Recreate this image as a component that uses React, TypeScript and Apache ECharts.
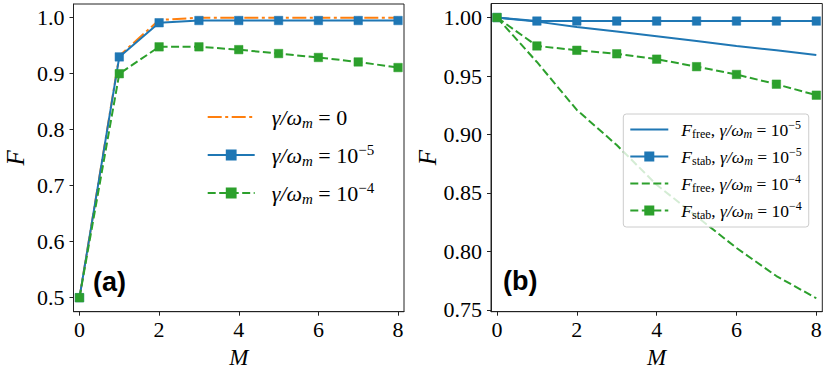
import React, { useEffect, useRef } from 'react';
import * as echarts from 'echarts';

// x values (number of stabilisation steps M)
const M = [0, 1, 2, 3, 4, 5, 6, 7, 8];

// Panel (a)
const aGamma0 = [0.5, 0.932, 0.996, 1.0, 1.0, 1.0, 1.0, 1.0, 1.0];
const aGamma5 = [0.5, 0.93, 0.991, 0.995, 0.995, 0.995, 0.995, 0.995, 0.995];
const aGamma4 = [0.5, 0.9, 0.948, 0.948, 0.943, 0.936, 0.929, 0.921, 0.911];

// Panel (b)
const bFree5 = [1.0, 0.9965, 0.992, 0.988, 0.984, 0.98, 0.9757, 0.972, 0.968];
const bStab5 = [1.0, 0.997, 0.997, 0.997, 0.997, 0.997, 0.997, 0.997, 0.997];
const bFree4 = [1.0, 0.962, 0.921, 0.891, 0.857, 0.83, 0.803, 0.779, 0.76];
const bStab4 = [1.0, 0.9757, 0.972, 0.969, 0.9644, 0.958, 0.9513, 0.943, 0.9336];

const xTicks = [0, 2, 4, 6, 8];
const aYTicks = [0.5, 0.6, 0.7, 0.8, 0.9, 1.0];
const bYTicks = [0.75, 0.8, 0.85, 0.9, 0.95, 1.0];

const BLUE = '#1f77b4';
const ORANGE = '#ff7f0e';
const GREEN = '#2ca02c';
const SERIF = 'Liberation Serif';
const INK = '#222';

const pairs = (ys: number[]) => M.map((m, i) => [m, ys[i]]);

const legendLabels: Record<string, string> = {
  a0: '{f|γ/ω}{s|m}{t| = 0}',
  a5: '{f|γ/ω}{s|m}{t| = 10}{p|−5}',
  a4: '{f|γ/ω}{s|m}{t| = 10}{p|−4}',
  b1: '{f|F}{u|free}{t|, }{g|γ/ω}{s|m}{t| = 10}{p|−5}',
  b2: '{f|F}{u|stab}{t|, }{g|γ/ω}{s|m}{t| = 10}{p|−5}',
  b3: '{f|F}{u|free}{t|, }{g|γ/ω}{s|m}{t| = 10}{p|−4}',
  b4: '{f|F}{u|stab}{t|, }{g|γ/ω}{s|m}{t| = 10}{p|−4}',
};

function richFor(size: number, lead: number) {
  const small = Math.round(size * 0.7);
  const lh = Math.round(size * 1.2);
  const slh = Math.round(small * 1.1);
  return {
    f: { fontFamily: SERIF, fontStyle: 'italic', fontSize: size, lineHeight: lh, color: '#000', padding: [0, 0, 0, lead] },
    g: { fontFamily: SERIF, fontStyle: 'italic', fontSize: size, lineHeight: lh, color: '#000' },
    t: { fontFamily: SERIF, fontSize: size, lineHeight: lh, color: '#000' },
    s: { fontFamily: SERIF, fontStyle: 'italic', fontSize: small, lineHeight: slh, verticalAlign: 'bottom', color: '#000' },
    u: { fontFamily: SERIF, fontSize: small, lineHeight: slh, verticalAlign: 'bottom', color: '#000' },
    p: { fontFamily: SERIF, fontSize: small, lineHeight: slh, verticalAlign: 'top', color: '#000' },
  };
}

function xAxis(gridIndex: number) {
  return {
    type: 'value',
    gridIndex,
    min: -0.15,
    max: 8.15,
    name: 'M',
    nameLocation: 'middle',
    nameGap: 28,
    nameTextStyle: { fontFamily: SERIF, fontStyle: 'italic', fontSize: 23, lineHeight: 23, color: '#000' },
    axisLine: { show: true, onZero: false, lineStyle: { color: INK, width: 1 } },
    axisTick: { show: true, inside: false, length: 4, customValues: xTicks, lineStyle: { color: INK, width: 1 } },
    axisLabel: { customValues: xTicks, margin: 7, fontFamily: SERIF, fontSize: 22, color: '#000' },
    splitLine: { show: false },
  };
}

function yAxis(gridIndex: number, min: number, max: number, ticks: number[], digits: number, gap: number) {
  return {
    type: 'value',
    gridIndex,
    min,
    max,
    name: 'F',
    nameLocation: 'middle',
    nameGap: gap,
    nameRotate: 90,
    nameTextStyle: { fontFamily: SERIF, fontStyle: 'italic', fontSize: 25, color: '#000' },
    axisLine: { show: true, onZero: false, lineStyle: { color: INK, width: 1 } },
    axisTick: { show: true, inside: false, length: 4, customValues: ticks, lineStyle: { color: INK, width: 1 } },
    axisLabel: {
      customValues: ticks,
      margin: 9,
      fontFamily: SERIF,
      fontSize: 22,
      color: '#000',
      formatter: (v: number) => v.toFixed(digits),
    },
    splitLine: { show: false },
  };
}

function lineSeries(name: string, idx: number, ys: number[], color: string, type: any, marker: boolean, z: number) {
  return {
    name,
    type: 'line',
    xAxisIndex: idx,
    yAxisIndex: idx,
    data: pairs(ys),
    symbol: marker ? 'rect' : 'none',
    symbolSize: 8.5,
    showSymbol: marker,
    z,
    lineStyle: { color, width: 2, type },
    itemStyle: { color, borderColor: color, borderWidth: 0.5 },
    emphasis: { disabled: true },
  };
}

const hiddenIcon = { color: 'rgba(0,0,0,0)', borderColor: 'rgba(0,0,0,0)', borderWidth: 0, opacity: 0 };

const DASH = [8, 3.5];
const DASHDOT = [14, 3.5, 3, 3.5];

export default function App() {
  const ref = useRef<HTMLDivElement>(null);
  useEffect(() => {
    const chart = echarts.init(ref.current!, null, { renderer: 'svg' });
    const option: any = {
      animation: false,
      backgroundColor: '#fff',
      grid: [
        { left: 73.5, top: 4, width: 330.5, height: 307.7, show: true, borderColor: INK, borderWidth: 1, backgroundColor: 'transparent', containLabel: false, outerBoundsMode: 'none' },
        { left: 491, top: 3.5, width: 331.3, height: 308.2, show: true, borderColor: INK, borderWidth: 1, backgroundColor: 'transparent', containLabel: false, outerBoundsMode: 'none' },
      ],
      xAxis: [xAxis(0), xAxis(1)],
      yAxis: [
        yAxis(0, 0.475, 1.0245, aYTicks, 1, 46),
        yAxis(1, 0.7485, 1.012, bYTicks, 2, 51),
      ],
      legend: [
        {
          data: [{ name: 'a0', itemStyle: hiddenIcon }, 'a5', 'a4'],
          orient: 'vertical',
          left: 201.7,
          top: 101,
          padding: 5,
          itemWidth: 47,
          itemHeight: 11,
          itemGap: 12,
          selectedMode: false,
          formatter: (n: string) => legendLabels[n],
          textStyle: { rich: richFor(22, 12) },
        },
        {
          data: [{ name: 'b1', itemStyle: hiddenIcon }, 'b2', { name: 'b3', itemStyle: hiddenIcon }, 'b4'],
          orient: 'vertical',
          left: 623.3,
          top: 114,
          padding: [5, 7, 6, 6],
          itemWidth: 38,
          itemHeight: 10,
          itemGap: 6,
          selectedMode: false,
          backgroundColor: 'rgba(255,255,255,0.8)',
          borderColor: '#cccccc',
          borderWidth: 1,
          borderRadius: 3,
          formatter: (n: string) => legendLabels[n],
          textStyle: { rich: richFor(17.5, 8) },
        },
      ],
      series: [
        lineSeries('a0', 0, aGamma0, ORANGE, DASHDOT, false, 2),
        lineSeries('a5', 0, aGamma5, BLUE, 'solid', true, 3),
        lineSeries('a4', 0, aGamma4, GREEN, DASH, true, 4),
        lineSeries('b1', 1, bFree5, BLUE, 'solid', false, 2),
        lineSeries('b2', 1, bStab5, BLUE, 'solid', true, 3),
        lineSeries('b3', 1, bFree4, GREEN, DASH, false, 2),
        lineSeries('b4', 1, bStab4, GREEN, DASH, true, 4),
      ],
      graphic: [
        {
          type: 'text',
          left: 93,
          top: 268,
          style: { text: '(a)', font: 'bold 27px "Liberation Sans"', fill: '#000' },
        },
        {
          type: 'text',
          left: 503,
          top: 267,
          style: { text: '(b)', font: 'bold 27px "Liberation Sans"', fill: '#000' },
        },
      ],
    };
    chart.setOption(option);
    return () => chart.dispose();
  }, []);
  return <div ref={ref} style={{ position: 'fixed', left: 0, top: 0, width: 830, height: 369 }} />;
}
